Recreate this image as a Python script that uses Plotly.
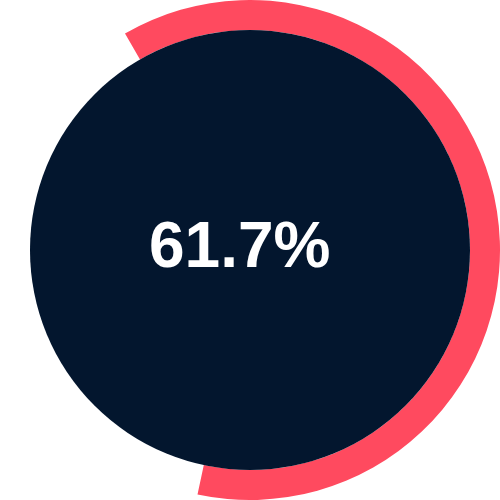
import plotly.graph_objects as go

# progress value (percent)
labels = ["done", "rest"]
values = [61.7, 38.3]
label_text = "61.7%"

fig = go.Figure()

# red progress ring
fig.add_trace(go.Pie(
    labels=labels,
    values=values,
    hole=0.88,
    sort=False,
    direction="clockwise",
    rotation=-30,
    marker=dict(colors=["#FF4A5F", "rgba(0,0,0,0)"], line=dict(width=0)),
    textinfo="none",
    hoverinfo="skip",
    showlegend=False,
    domain=dict(x=[0, 1], y=[0, 1]),
))

# dark inner disc
fig.add_shape(type="circle", xref="paper", yref="paper",
              x0=0.06, x1=0.94, y0=0.06, y1=0.94,
              fillcolor="#03162E", line=dict(width=0), layer="above")

fig.add_annotation(text=label_text, x=0.478, y=0.51, xref="paper", yref="paper",
                   showarrow=False,
                   font=dict(family="Liberation Sans, Arial", size=64, color="white", weight="bold"))

fig.update_layout(width=500, height=500, margin=dict(l=0, r=0, t=0, b=0),
                  paper_bgcolor="white", plot_bgcolor="white")

# drop the default body margin so the figure sits at the page corner
fig.write_html("out.html", config={"displayModeBar": False},
               post_script="document.body.style.margin='0';")
